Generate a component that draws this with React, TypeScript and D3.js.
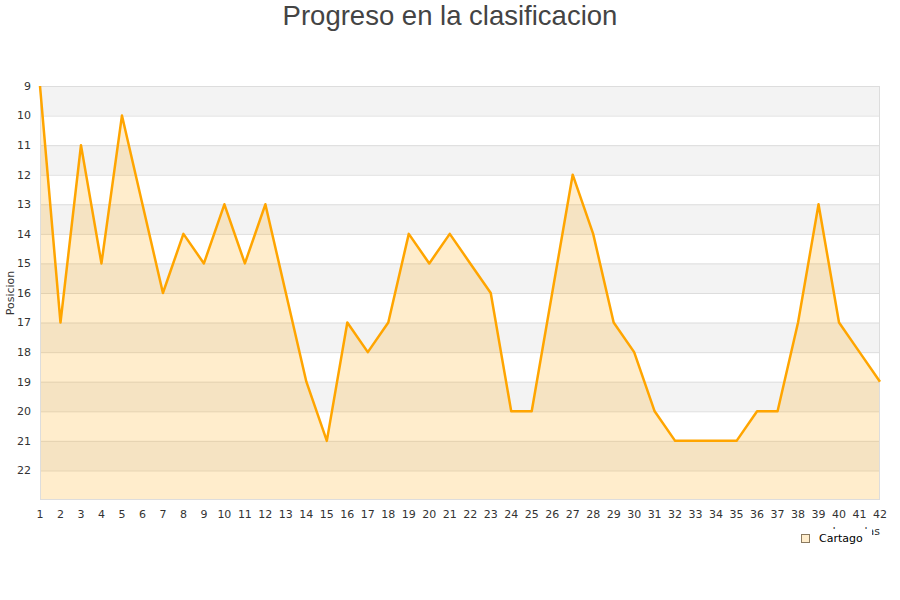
import { useEffect, useRef } from "react";
import * as d3 from "d3";

const jornadas = d3.range(1, 43);
const posiciones = [
  9, 17, 11, 15, 10, 13, 16, 14, 15, 13, 15, 13, 16, 19, 21, 17, 18, 17, 14, 15, 14,
  15, 16, 20, 20, 16, 12, 14, 17, 18, 20, 21, 21, 21, 21, 20, 20, 17, 13, 17, 18, 19,
];
const yTicks = d3.range(9, 23);
const seriesName = "Cartago";

export default function App() {
  const svgRef = useRef<SVGSVGElement>(null);

  useEffect(() => {
    if (!svgRef.current) return;
    const svg = d3.select(svgRef.current);
    svg.selectAll("*").remove();

    const width = 900;
    const height = 600;
    const margin = { top: 86, right: 20, bottom: 100, left: 40 };
    const font = "'DejaVu Sans', sans-serif";

    const x = d3
      .scaleLinear()
      .domain([1, 42])
      .range([margin.left, width - margin.right]);
    const y = d3
      .scaleLinear()
      .domain([9, 23])
      .range([margin.top, height - margin.bottom]);

    // Bands
    svg
      .append("g")
      .selectAll("rect")
      .data(d3.range(9, 23))
      .join("rect")
      .attr("x", x(1))
      .attr("width", x(42) - x(1))
      .attr("y", (d) => y(d))
      .attr("height", (d) => y(d + 1) - y(d))
      .attr("fill", (d) => ((d - 9) % 2 === 0 ? "#f3f3f3" : "#ffffff"));

    // Grid lines
    svg
      .append("g")
      .selectAll("line")
      .data(yTicks)
      .join("line")
      .attr("x1", x(1))
      .attr("x2", x(42))
      .attr("y1", (d) => y(d) + 0.5)
      .attr("y2", (d) => y(d) + 0.5)
      .attr("stroke", "#dddddd");

    // Area
    const area = d3
      .area<number>()
      .x((_d, i) => x(jornadas[i]))
      .y0(y(23))
      .y1((d) => y(d));
    svg
      .append("path")
      .datum(posiciones)
      .attr("d", area)
      .attr("fill", "#ffa500")
      .attr("fill-opacity", 0.2);

    // Plot border
    svg
      .append("rect")
      .attr("x", x(1) + 0.5)
      .attr("y", y(9) + 0.5)
      .attr("width", x(42) - x(1) - 1)
      .attr("height", y(23) - y(9) - 1)
      .attr("fill", "none")
      .attr("stroke", "#dddddd");

    // Line
    const line = d3
      .line<number>()
      .x((_d, i) => x(jornadas[i]))
      .y((d) => y(d));
    svg
      .append("path")
      .datum(posiciones)
      .attr("d", line)
      .attr("fill", "none")
      .attr("stroke", "#ffa500")
      .attr("stroke-width", 2.5)
      .attr("stroke-linejoin", "round");

    // Y axis labels
    svg
      .append("g")
      .selectAll("text")
      .data(yTicks)
      .join("text")
      .attr("x", 31)
      .attr("y", (d) => y(d))
      .attr("dy", "0.35em")
      .attr("text-anchor", "end")
      .attr("font-family", font)
      .attr("font-size", 11)
      .attr("fill", "#333")
      .text((d) => d);

    // X axis labels
    svg
      .append("g")
      .selectAll("text")
      .data(jornadas)
      .join("text")
      .attr("x", (d) => x(d))
      .attr("y", 518)
      .attr("text-anchor", "middle")
      .attr("font-family", font)
      .attr("font-size", 11)
      .attr("fill", "#333")
      .text((d) => d);

    // Axis titles
    svg
      .append("text")
      .attr("transform", `translate(14,${(y(9) + y(23)) / 2}) rotate(-90)`)
      .attr("text-anchor", "middle")
      .attr("font-family", font)
      .attr("font-size", 11)
      .attr("fill", "#333")
      .text("Posicion");

    // x title sits behind the legend, as in the original
    svg
      .append("text")
      .attr("x", 880)
      .attr("y", 535)
      .attr("text-anchor", "end")
      .attr("font-family", font)
      .attr("font-size", 11)
      .attr("fill", "#333")
      .text("Jornadas");

    // Legend
    const legend = svg.append("g");
    legend
      .append("rect")
      .attr("x", 792)
      .attr("y", 529)
      .attr("width", 80)
      .attr("height", 20)
      .attr("fill", "#ffffff");
    legend
      .append("rect")
      .attr("x", 801.5)
      .attr("y", 534.5)
      .attr("width", 8)
      .attr("height", 8)
      .attr("fill", "#ffedcc")
      .attr("stroke", "#8a7a60");
    legend
      .append("text")
      .attr("x", 819)
      .attr("y", 542)
      .attr("font-family", font)
      .attr("font-size", 11)
      .attr("fill", "#000")
      .text(seriesName);

    // Title
    svg
      .append("text")
      .attr("x", 450)
      .attr("y", 25)
      .attr("text-anchor", "middle")
      .attr("font-family", "'Liberation Sans', Arial, sans-serif")
      .attr("font-size", 27.5)
      .attr("fill", "#444")
      .text("Progreso en la clasificacion");
  }, []);

  return (
    <svg
      ref={svgRef}
      width={900}
      height={600}
      style={{ position: "absolute", left: 0, top: 0, background: "#fff" }}
    />
  );
}
